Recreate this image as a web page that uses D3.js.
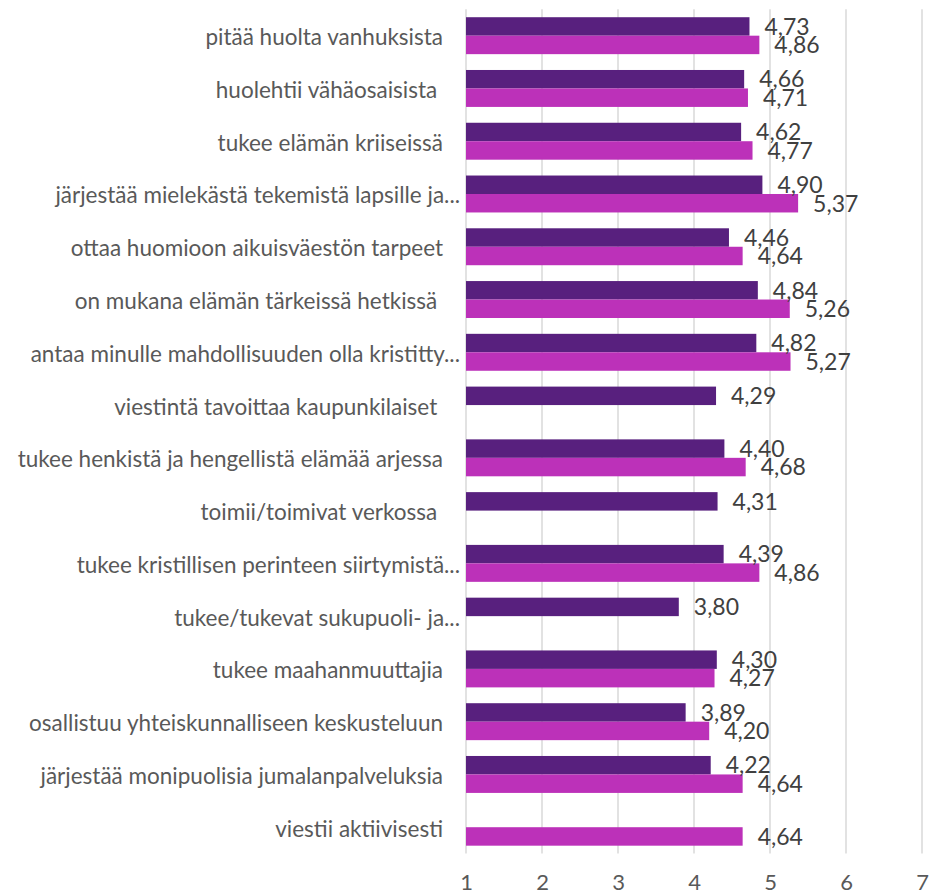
<!DOCTYPE html>
<html>
<head>
<meta charset="utf-8">
<script src="https://cdn.jsdelivr.net/npm/d3@7"></script>
<style>
  body { margin: 0; background: #fff; }
  svg text { white-space: pre; }
</style>
</head>
<body>
<svg width="931" height="895"></svg>
<script>
const width = 931;
const height = 895;

const categories = [
  "pitää huolta vanhuksista",
  "huolehtii vähäosaisista ",
  "tukee elämän kriiseissä",
  "järjestää mielekästä tekemistä lapsille ja...",
  "ottaa huomioon aikuisväestön tarpeet",
  "on mukana elämän tärkeissä hetkissä ",
  "antaa minulle mahdollisuuden olla kristitty...",
  "viestintä tavoittaa kaupunkilaiset ",
  "tukee henkistä ja hengellistä elämää arjessa",
  "toimii/toimivat verkossa ",
  "tukee kristillisen perinteen siirtymistä...",
  "tukee/tukevat sukupuoli- ja...",
  "tukee maahanmuuttajia",
  "osallistuu yhteiskunnalliseen keskusteluun",
  "järjestää monipuolisia jumalanpalveluksia",
  "viestii aktiivisesti"
];
const seriesA = [4.73, 4.66, 4.62, 4.90, 4.46, 4.84, 4.82, 4.29, 4.40, 4.31, 4.39, 3.80, 4.30, 3.89, 4.22, null];
const seriesB = [4.86, 4.71, 4.77, 5.37, 4.64, 5.26, 5.27, null, 4.68, null, 4.86, null, 4.27, 4.20, 4.64, 4.64];
const xTicks = [1, 2, 3, 4, 5, 6, 7];
const seriesKeys = ["a", "b"];
const colors = { a: "#58207e", b: "#bc31b9" };

const svg = d3.select('svg');

const rows = categories.map((c, i) => ({ cat: c, a: seriesA[i], b: seriesB[i] }));

const xScale = d3.scaleLinear()
    .domain([1, 7])
    .range([466, 922]);

const yScale = d3.scaleBand()
    .domain(categories)
    .range([9.3, 853.6])
    .paddingInner(0.3)
    .paddingOuter(0.15);

const subScale = d3.scaleBand()
    .domain(seriesKeys)
    .range([0, yScale.bandwidth()]);

// gridlines
svg.append('g')
    .selectAll('line')
    .data(xTicks)
    .enter()
    .append('line')
    .attr('x1', d => xScale(d))
    .attr('x2', d => xScale(d))
    .attr('y1', 9.3)
    .attr('y2', 853.6)
    .attr('stroke', '#d9d9d9')
    .attr('stroke-width', 1.5);

// x axis
const xAxis = d3.axisBottom(xScale)
    .tickValues(xTicks)
    .tickSize(0)
    .tickPadding(21)
    .tickFormat(d3.format('d'));

const xAxisG = svg.append('g')
    .attr('transform', 'translate(0, 853.6)')
    .call(xAxis);
xAxisG.select('.domain').remove();
xAxisG.selectAll('text')
    .attr('font-family', 'Lato, sans-serif')
    .attr('font-size', 22)
    .attr('fill', '#595959');

// category labels
svg.append('g')
    .selectAll('text')
    .data(categories)
    .enter()
    .append('text')
    .text(d => d)
    .attr('x', 443)
    .attr('dx', d => d.endsWith('...') ? 17 : 0)
    .attr('y', d => yScale(d) + yScale.bandwidth() / 2)
    .attr('dy', '0.42em')
    .attr('text-anchor', 'end')
    .attr('font-family', 'Lato, sans-serif')
    .attr('font-size', 22.5)
    .attr('fill', '#595959');

// bars
const bars = [];
rows.forEach(r => {
    seriesKeys.forEach(k => {
        if (r[k] != null) bars.push({ cat: r.cat, key: k, value: r[k] });
    });
});

const g = svg.append('g');

g.selectAll('rect')
    .data(bars)
    .enter()
    .append('rect')
    .attr('x', xScale(1))
    .attr('y', d => yScale(d.cat) + subScale(d.key))
    .attr('width', d => xScale(d.value) - xScale(1))
    .attr('height', subScale.bandwidth())
    .attr('fill', d => colors[d.key]);

g.selectAll('text')
    .data(bars)
    .enter()
    .append('text')
    .text(d => d3.format('.2f')(d.value).replace('.', ','))
    .attr('x', d => xScale(d.value) + 15)
    .attr('y', d => yScale(d.cat) + subScale(d.key) + subScale.bandwidth() / 2)
    .attr('dy', '0.36em')
    .attr('font-family', 'Lato, sans-serif')
    .attr('font-size', 23)
    .attr('fill', '#404040');
</script>
</body>
</html>
